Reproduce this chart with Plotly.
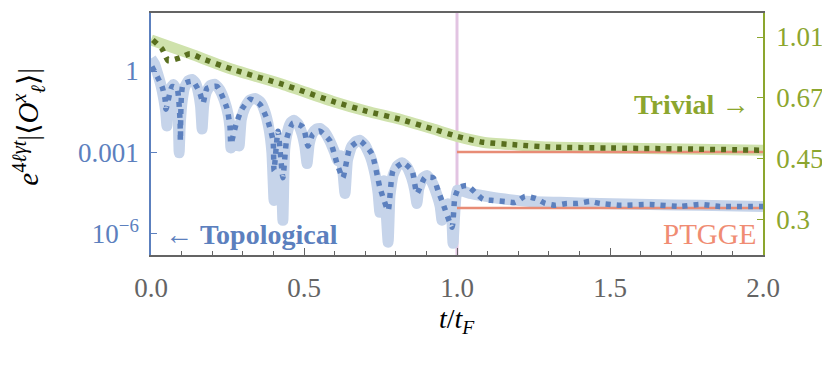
import plotly.graph_objects as go

# ---------------- data (log10 of the plotted quantity) ----------------
# Topological, exact/smooth curve (left axis)
topo_band_t = [0.000, 0.012, 0.023, 0.033, 0.042, 0.048, 0.052,
               0.055, 0.060, 0.066, 0.073, 0.080, 0.085, 0.089, 0.092,
               0.096, 0.102, 0.110, 0.122, 0.134, 0.146, 0.155, 0.162, 0.167,
               0.172, 0.180, 0.192, 0.209, 0.225, 0.240, 0.252, 0.258, 0.261,
               0.268, 0.275, 0.282, 0.288,
               0.295, 0.307, 0.322, 0.340, 0.358, 0.372, 0.385, 0.395, 0.402,
               0.407, 0.415, 0.423, 0.431,
               0.437, 0.447, 0.457, 0.467, 0.480, 0.493, 0.503, 0.510,
               0.517, 0.528, 0.540, 0.552, 0.567, 0.585, 0.600, 0.611,
               0.621, 0.634,
               0.642, 0.655, 0.670, 0.683, 0.700, 0.718, 0.732, 0.742, 0.748,
               0.761, 0.775,
               0.781, 0.791, 0.805, 0.820, 0.837, 0.852, 0.862, 0.869,
               0.875, 0.888, 0.902, 0.918, 0.935, 0.945, 0.951,
               0.960, 0.970, 0.980, 0.987,
               1.000, 1.015, 1.042, 1.141, 1.239, 1.337, 1.467, 1.631, 1.794, 2.000]
topo_band_log10 = [0.46, 0.25, -0.15, -0.55, -1.05, -1.50, -2.03,
                   -1.40, -0.90, -0.60, -0.50, -0.65, -1.00, -1.70, -3.02,
                   -1.90, -1.10, -0.60, -0.36, -0.31, -0.45, -0.80, -1.30, -2.14,
                   -1.30, -0.80, -0.55, -0.49, -0.70, -1.10, -1.60, -2.10, -2.84,
                   -2.10, -2.03, -2.20, -2.77,
                   -1.80, -1.35, -1.08, -1.01, -1.15, -1.50, -2.10, -3.00, -4.78,
                   -2.90, -2.40, -2.90, -5.51,
                   -2.90, -2.20, -1.90, -1.82, -1.95, -2.30, -2.80, -3.42,
                   -2.70, -2.30, -2.15, -2.12, -2.25, -2.60, -3.00, -3.32,
                   -3.13, -4.52,
                   -3.30, -2.80, -2.60, -2.56, -2.75, -3.20, -3.80, -4.50, -5.22,
                   -4.05, -6.32,
                   -4.60, -3.85, -3.50, -3.39, -3.55, -3.95, -4.40, -4.89,
                   -4.35, -3.95, -3.86, -4.10, -4.60, -5.00, -5.51,
                   -5.00, -4.90, -5.00, -6.36,
                   -4.41, -4.42, -4.52, -4.71, -4.82, -4.85, -4.89, -4.93, -4.96, -5.00]

# Topological, numerical (dotted)
topo_dot_t = [0.003, 0.036, 0.046, 0.049, 0.069, 0.085, 0.095, 0.096, 0.105, 0.137, 0.160, 0.170,
              0.183, 0.216, 0.248, 0.258, 0.261, 0.278, 0.297, 0.324, 0.356, 0.382, 0.399, 0.402,
              0.415, 0.431, 0.444, 0.464, 0.497, 0.513, 0.529, 0.552, 0.585, 0.608, 0.627, 0.650,
              0.683, 0.722, 0.748, 0.775, 0.791, 0.824, 0.853, 0.869, 0.895, 0.922, 0.938, 0.954,
              0.984, 0.993, 1.007, 1.033, 1.085, 1.118, 1.157, 1.190, 1.222, 1.258, 1.288, 1.320,
              1.359, 1.395, 1.435, 1.467, 1.533, 1.631, 1.729, 1.794, 1.859, 2.000]
topo_dot_log10 = [0.165, -0.57, -1.04, -1.41, -0.57, -0.64, -1.85, -2.58, -0.49, -0.38, -0.82, -1.19,
                  -0.64, -0.57, -1.37, -2.03, -2.69, -1.96, -1.41, -1.04, -1.23, -1.85, -2.58, -3.68,
                  -2.22, -3.94, -2.47, -1.92, -2.07, -2.77, -2.33, -2.22, -2.58, -3.42, -3.94, -2.84,
                  -2.58, -3.06, -4.30, -5.15, -3.68, -3.39, -3.68, -4.52, -3.94, -3.94, -4.41, -4.89,
                  -5.77, -4.67, -4.30, -4.23, -4.74, -4.78, -4.82, -4.85, -4.63, -4.71, -4.89, -4.96,
                  -4.89, -4.89, -4.82, -4.89, -4.96, -4.93, -5.00, -4.93, -5.00, -5.00]

# Trivial (right axis, values)
triv_band_t = [0.0, 0.127, 0.268, 0.431, 0.595, 0.706, 0.814, 0.922, 1.0, 1.085, 1.196, 1.304, 1.49, 1.729, 2.0]
triv_band_v = [0.993, 0.906, 0.815, 0.738, 0.659, 0.617, 0.585, 0.548, 0.522, 0.502, 0.493, 0.486, 0.483, 0.480, 0.476]

triv_dot_t = [0.006, 0.036, 0.056, 0.095, 0.127, 0.167, 0.268, 0.431, 0.595, 0.706, 0.814, 0.922, 1.0,
              1.085, 1.196, 1.304, 1.49, 1.729, 2.0]
triv_dot_v = [0.993, 0.935, 0.865, 0.881, 0.906, 0.877, 0.815, 0.738, 0.659, 0.617, 0.585, 0.548, 0.522,
              0.502, 0.493, 0.486, 0.483, 0.480, 0.476]

# PTGGE plateaus (t >= t_F)
ptgge_t = [1.0, 2.0]
ptgge_topo = [8.7e-6, 8.7e-6]
ptgge_triv = [0.470, 0.470]
t_F = 1.0

left_ticks = [1e-6, 1e-3, 1]
left_ticktext = ["10<sup>−6</sup>", "0.001", "1"]
right_ticks = [0.3, 0.45, 0.675, 1.0125]
right_ticktext = ["0.3", "0.45", "0.67", "1.01"]
x_ticks = [0.0, 0.5, 1.0, 1.5, 2.0]

topo_band_v = [10 ** v for v in topo_band_log10]
topo_dot_v = [10 ** v for v in topo_dot_log10]

# ---------------- styles ----------------
FONT = "Liberation Serif, Times New Roman, DejaVu Serif, serif"
BLUE = "rgb(92,128,190)"
BLUE_BAND = "rgb(198,212,234)"
GREEN = "rgb(140,166,46)"
GREEN_DARK = "rgb(88,110,30)"
GREEN_BAND = "rgb(207,226,172)"
RED = "rgb(232,140,118)"
GRAY = "rgb(100,100,100)"

fig = go.Figure()

fig.add_trace(go.Scatter(x=topo_band_t, y=topo_band_v, mode="lines", yaxis="y",
                         line=dict(color=BLUE_BAND, width=11, shape="spline", smoothing=0.4),
                         hoverinfo="skip"))
fig.add_trace(go.Scatter(x=ptgge_t, y=ptgge_topo, mode="lines", yaxis="y",
                         line=dict(color=RED, width=2.5)))
fig.add_trace(go.Scatter(x=topo_dot_t, y=topo_dot_v, mode="lines", yaxis="y",
                         line=dict(color=BLUE, width=5.5, dash="5px,6px", shape="spline", smoothing=0.5)))

fig.add_trace(go.Scatter(x=triv_band_t, y=triv_band_v, mode="lines", yaxis="y2",
                         line=dict(color=GREEN_BAND, width=11, shape="spline", smoothing=0.6),
                         hoverinfo="skip"))
fig.add_trace(go.Scatter(x=ptgge_t, y=ptgge_triv, mode="lines", yaxis="y2",
                         line=dict(color=RED, width=2.5)))
fig.add_trace(go.Scatter(x=triv_dot_t, y=triv_dot_v, mode="lines", yaxis="y2",
                         line=dict(color=GREEN_DARK, width=5.5, dash="5px,6px", shape="spline", smoothing=0.5)))

fig.add_shape(type="line", xref="x", yref="paper", x0=t_F, x1=t_F, y0=0, y1=1,
              line=dict(color="rgb(226,196,226)", width=3), layer="below")

fig.update_layout(
    width=822, height=365,
    margin=dict(l=143, r=67, t=3, b=118),
    paper_bgcolor="white", plot_bgcolor="white",
    showlegend=False,
    font=dict(family=FONT, size=27, color=GRAY),
    xaxis=dict(range=[0, 2], tickvals=x_ticks, ticktext=[f"{v:.1f}" for v in x_ticks],
               showline=True, linecolor=GRAY, linewidth=1.5, mirror=True,
               ticks="inside", ticklen=7, tickwidth=1.2, tickcolor=GRAY,
               minor=dict(dtick=0.1, ticks="inside", ticklen=4, tickcolor=GRAY, tickwidth=1.2),
               showgrid=False, zeroline=False, ticklabelstandoff=8,
               tickfont=dict(family=FONT, size=27, color=GRAY)),
    yaxis=dict(type="log", range=[-6.795, 2.143], tickvals=left_ticks, ticktext=left_ticktext,
               showline=True, linecolor=BLUE, linewidth=1.5,
               ticks="inside", ticklen=6, tickcolor=BLUE, tickwidth=1.2,
               showgrid=False, zeroline=False, ticklabelstandoff=5,
               tickfont=dict(family=FONT, size=27, color=BLUE)),
    yaxis2=dict(type="log", range=[-0.626, 0.075], overlaying="y", side="right", anchor="x",
                tickvals=right_ticks, ticktext=right_ticktext,
                showline=True, linecolor=GREEN, linewidth=1.5,
                ticks="inside", ticklen=6, tickcolor=GREEN, tickwidth=1.2,
                showgrid=False, zeroline=False, ticklabelstandoff=6,
                tickfont=dict(family=FONT, size=27, color=GREEN)),
)

fig.add_annotation(text="← <b>Topological</b>", xref="paper", yref="paper", x=0.019, y=0.085,
                   xanchor="left", yanchor="middle", showarrow=False,
                   font=dict(family=FONT, size=28, color=BLUE))
fig.add_annotation(text="<b>Trivial</b> →", xref="paper", yref="paper", x=0.981, y=0.62,
                   xanchor="right", yanchor="middle", showarrow=False,
                   font=dict(family=FONT, size=28, color=GREEN))
fig.add_annotation(text="PTGGE", xref="paper", yref="paper", x=0.992, y=0.085,
                   xanchor="right", yanchor="middle", showarrow=False,
                   font=dict(family=FONT, size=29, color="rgb(240,140,115)"))
fig.add_annotation(text="<i>t</i>/<i>t</i><sub><i>F</i></sub>", xref="paper", yref="paper",
                   x=0.5, y=-0.27, xanchor="center", yanchor="middle", showarrow=False,
                   font=dict(family=FONT, size=28, color="black"))
fig.add_annotation(text="<i>e</i><sup>4<i>ℓγt</i></sup>|⟨<i>O</i><sup><i>x</i></sup><sub><i>ℓ</i></sub>⟩|",
                   xref="paper", yref="paper", x=-0.201, y=0.53, xanchor="center", yanchor="middle",
                   textangle=-90, showarrow=False,
                   font=dict(family=FONT, size=29, color="black"))

fig.write_html("out.html")
